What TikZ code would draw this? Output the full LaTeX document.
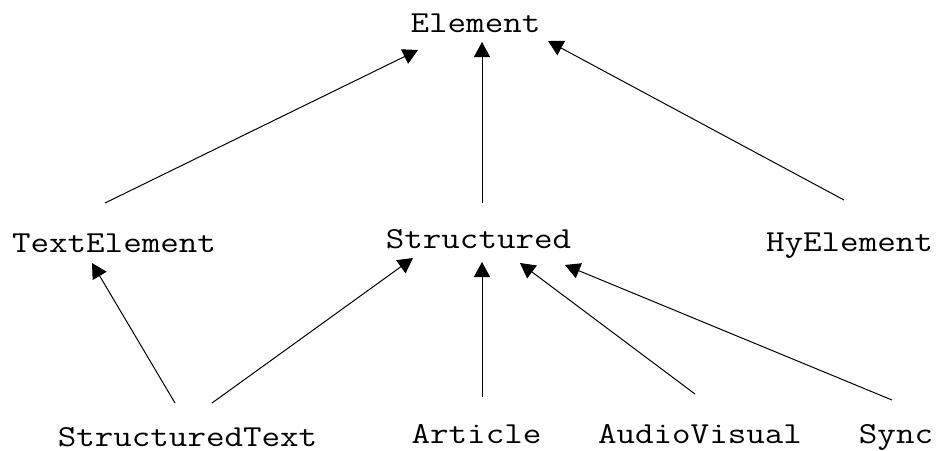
\documentclass[tikz,border=0pt]{standalone}
\usetikzlibrary{arrows.meta,calc}
\newcommand{\clstext}[1]{\scalebox{1.18}[1.0]{\ttfamily\fontsize{15.25pt}{18pt}\selectfont #1}}
\tikzset{
  cls/.style={inner sep=0pt, anchor=base},
  arr/.style={line width=0.5pt, -{Triangle[length=7.5pt,width=8pt]}}
}
\begin{document}
\begin{tikzpicture}[x=0.5pt,y=-0.5pt]
\useasboundingbox[fill=white] (0,0) rectangle (937,450);
\node[cls] (Element) at (475.5,32) {\clstext{Element}};
\node[cls] (TextElement) at (114,252) {\clstext{TextElement}};
\node[cls] (Structured) at (478.5,248) {\clstext{Structured}};
\node[cls] (HyElement) at (849.5,251) {\clstext{HyElement}};
\node[cls] (StructuredText) at (187.5,446) {\clstext{StructuredText}};
\node[cls] (Article) at (476.5,443) {\clstext{Article}};
\node[cls] (AudioVisual) at (700,443) {\clstext{AudioVisual}};
\node[cls] (Sync) at (896,443) {\clstext{Sync}};
\draw[arr] ($(TextElement.base)+(-9,-49)$) -- ($(Element.base)+(-57.5,18)$);
\draw[arr] ($(Structured.base)+(3.5,-45)$) -- ($(Element.base)+(6.5,10)$);
\draw[arr] ($(HyElement.base)+(-5.5,-51)$) -- ($(Element.base)+(72.5,9)$);
\draw[arr] ($(StructuredText.base)+(-12.5,-43)$) -- ($(TextElement.base)+(-22,11)$);
\draw[arr] ($(StructuredText.base)+(24.5,-43)$) -- ($(Structured.base)+(-65.5,10)$);
\draw[arr] ($(Article.base)+(5.5,-46)$) -- ($(Structured.base)+(3.5,14)$);
\draw[arr] ($(AudioVisual.base)+(-5,-49)$) -- ($(Structured.base)+(41.5,15)$);
\draw[arr] ($(Sync.base)+(-4,-43)$) -- ($(Structured.base)+(86.5,17)$);
\end{tikzpicture}
\end{document}
